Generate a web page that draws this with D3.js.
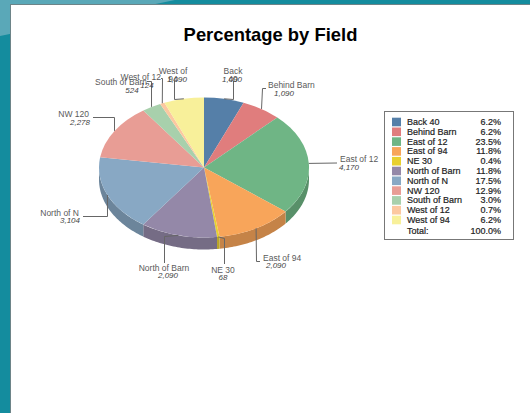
<!DOCTYPE html>
<html>
<head>
<meta charset="utf-8">
<script src="https://cdnjs.cloudflare.com/ajax/libs/d3/7.8.5/d3.min.js"></script>
<style>
  html, body { margin: 0; padding: 0; background: #fff; }
  svg { display: block; }
  text { font-family: "Liberation Sans", Arial, sans-serif; }
</style>
</head>
<body>
<div id="chart"></div>
<script>
const fields = ["Back 40", "Behind Barn", "East of 12", "East of 94", "NE 30", "North of Barn", "North of N", "NW 120", "South of Barn", "West of 12", "West of 94"];
const acres = [1090, 1090, 4170, 2090, 68, 2090, 3104, 2278, 524, 124, 1090];
const acreLabels = ["1,090", "1,090", "4,170", "2,090", "68", "2,090", "3,104", "2,278", "524", "124", "1,090"];
const percents = ["6.2%", "6.2%", "23.5%", "11.8%", "0.4%", "11.8%", "17.5%", "12.9%", "3.0%", "0.7%", "6.2%"];
const totalLabel = "100.0%";
const colors = ["#557fa8", "#e07d7d", "#6fb585", "#f8a55a", "#e8d030", "#9488a8", "#88a8c4", "#e89d95", "#a8d0ac", "#fcc8a0", "#f8f09a"];

const width = 530, height = 413;
const cx = 204, cy = 167.5, rx = 105, ry = 70, depth = 12;

const svg = d3.select("#chart").append("svg").attr("width", width).attr("height", height);

// page background
svg.append("rect").attr("width", width).attr("height", height).attr("fill", "#148c9e");
svg.append("path").attr("d", "M0,0H175L0,36Z").attr("fill", "#5aa8b8");
svg.append("rect").attr("x", 10.5).attr("y", 4.5).attr("width", width).attr("height", height)
  .attr("fill", "#fff").attr("stroke", "#6d8488");

svg.append("text").attr("x", 270.5).attr("y", 41).attr("text-anchor", "middle")
  .attr("font-size", 18.4).attr("font-weight", "bold").attr("fill", "#000")
  .text("Percentage by Field");

const pie = d3.pie().value(d => d).sort(null);
const arcs = pie(acres);
const arc = d3.arc().innerRadius(0).outerRadius(rx);

const ex = a => cx + rx * Math.sin(a);
const ey = a => cy - ry * Math.cos(a);

// side wall, only the part of each slice facing the viewer
const wall = svg.append("g");
arcs.forEach((d, i) => {
  const a0 = Math.max(d.startAngle, Math.PI / 2);
  const a1 = Math.min(d.endAngle, Math.PI * 1.5);
  if (a1 <= a0) return;
  const top = d3.range(a0, a1, 0.02).concat([a1]).map(a => [ex(a), ey(a)]);
  const bottom = top.map(p => [p[0], p[1] + depth]).reverse();
  wall.append("path")
    .attr("d", d3.line()(top.concat(bottom)) + "Z")
    .attr("fill", d3.color(colors[i]).darker(0.65));
});

svg.append("g").attr("transform", `translate(${cx},${cy}) scale(1,${ry / rx})`)
  .selectAll("path").data(arcs).enter().append("path")
  .attr("d", arc)
  .attr("fill", (d, i) => colors[i]);

// label layout, one row per field: elbow points then text placement
const labelLayout = [
  { via: [[233.5, 99.5], [233.5, 81]], name: ["Back", "40"], nameX: 233, nameY: 74, anchor: "middle", valX: 232, valY: 82 },
  { via: [[262.5, 88.5], [266, 88.5]], name: ["Behind Barn"], nameX: 268, nameY: 88, anchor: "start", valX: 284, valY: 96 },
  { via: [[337, 163]], name: ["East of 12"], nameX: 340, nameY: 162, anchor: "start", valX: 349, valY: 170 },
  { via: [[256.5, 261.5], [260, 261.5]], name: ["East of 94"], nameX: 263, nameY: 261, anchor: "start", valX: 276, valY: 268 },
  { via: [[224.5, 238.5], [224.5, 264]], name: ["NE 30"], nameX: 223, nameY: 273, anchor: "middle", valX: 223, valY: 280 },
  { via: [[164.5, 236.5], [164.5, 263]], name: ["North of Barn"], nameX: 164, nameY: 271, anchor: "middle", valX: 168, valY: 278 },
  { via: [[107.5, 216.5], [83, 216.5]], name: ["North of N"], nameX: 79, nameY: 216, anchor: "end", valX: 70, valY: 223 },
  { via: [[114.5, 117.5], [93, 117.5]], name: ["NW 120"], nameX: 89, nameY: 117, anchor: "end", valX: 80, valY: 125 },
  { via: [[151.5, 81.5], [147, 81.5]], name: ["South of Barn"], nameX: 147, nameY: 85, anchor: "end", valX: 132, valY: 93 },
  { via: [[162.5, 78.5], [161, 78.5]], name: ["West of 12"], nameX: 161, nameY: 80, anchor: "end", valX: 147, valY: 88 },
  { via: [[174.5, 99.5], [174.5, 81]], name: ["West of", "94"], nameX: 173, nameY: 74, anchor: "middle", valX: 177, valY: 82 }
];

const labels = svg.append("g");
arcs.forEach((d, i) => {
  const mid = (d.startAngle + d.endAngle) / 2;
  const l = labelLayout[i];
  labels.append("path")
    .attr("d", d3.line()([[ex(mid), ey(mid)]].concat(l.via)))
    .attr("fill", "none").attr("stroke", "#666").attr("stroke-width", 1);
  l.name.forEach((s, j) => {
    labels.append("text").attr("x", l.nameX).attr("y", l.nameY + j * 8)
      .attr("text-anchor", l.anchor).attr("font-size", 8.5).attr("fill", "#5a5a5a").text(s);
  });
  labels.append("text").attr("x", l.valX).attr("y", l.valY)
    .attr("text-anchor", "middle").attr("font-size", 8).attr("font-style", "italic")
    .attr("fill", "#444").text(acreLabels[i]);
});

// legend
const legend = svg.append("g");
legend.append("rect").attr("x", 384.5).attr("y", 111.5).attr("width", 129).attr("height", 128)
  .attr("fill", "#fff").attr("stroke", "#777");
const rowY = d3.scaleLinear().domain([0, fields.length - 1]).range([122, 220]);
fields.forEach((f, i) => {
  const y = rowY(i);
  legend.append("rect").attr("x", 392).attr("y", y - 4.3).attr("width", 9).attr("height", 8.6).attr("fill", colors[i]);
  legend.append("text").attr("x", 407).attr("y", y + 3).attr("font-size", 9).attr("fill", "#222")
    .attr("stroke", "#222").attr("stroke-width", 0.2).text(f);
  legend.append("text").attr("x", 501).attr("y", y + 3).attr("text-anchor", "end").attr("font-size", 9)
    .attr("fill", "#222").attr("stroke", "#222").attr("stroke-width", 0.2).text(percents[i]);
});
legend.append("text").attr("x", 407).attr("y", 234).attr("font-size", 9).attr("fill", "#222")
  .attr("stroke", "#222").attr("stroke-width", 0.2).text("Total:");
legend.append("text").attr("x", 501).attr("y", 234).attr("text-anchor", "end").attr("font-size", 9)
  .attr("fill", "#222").attr("stroke", "#222").attr("stroke-width", 0.2).text(totalLabel);
</script>
</body>
</html>
